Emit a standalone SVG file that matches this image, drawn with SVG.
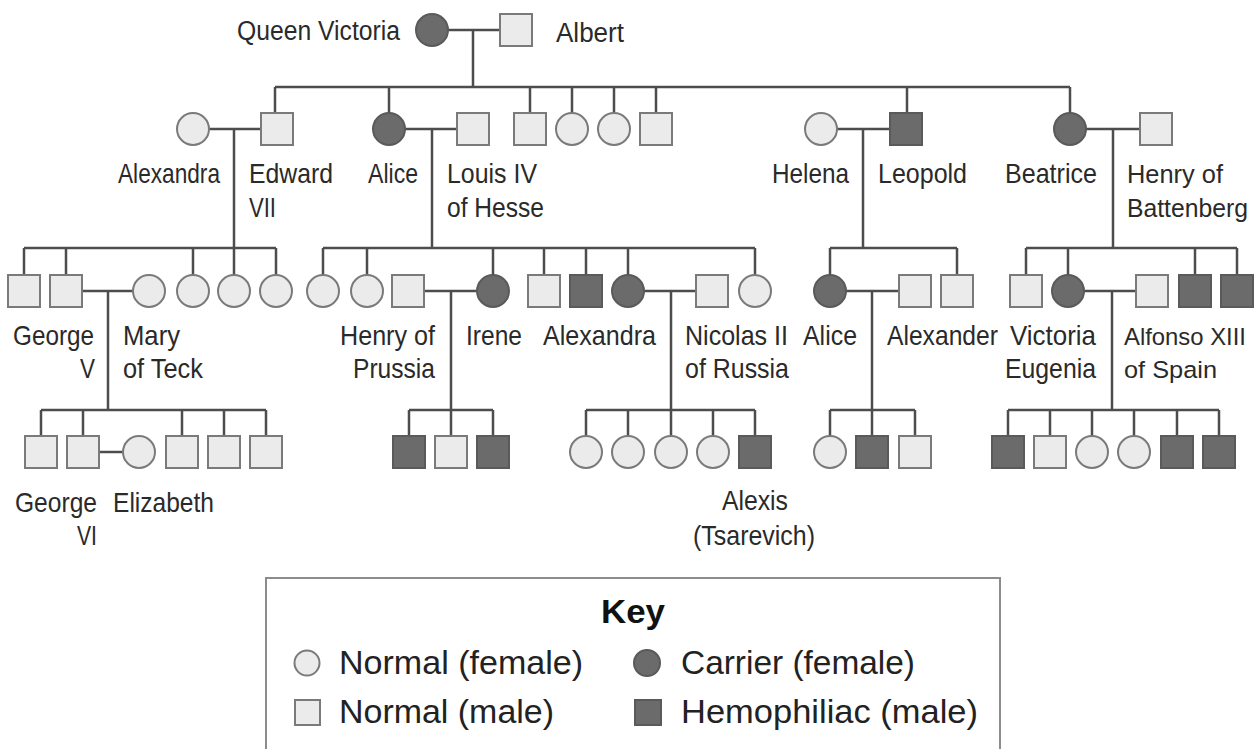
<svg xmlns="http://www.w3.org/2000/svg" width="1255" height="749" viewBox="0 0 1255 749">
<style>
.l{fill:#ebebeb;stroke:#7a7a7a;stroke-width:2}
.d{fill:#6b6b6b;stroke:#5a5a5a;stroke-width:2}
.ln{stroke:#4d4d4d;stroke-width:2.5;fill:none}
text{font-family:"Liberation Sans Narrow","Liberation Sans",Arial,sans-serif;fill:#2a2a2a;font-size:28px}
.t{font-size:27px}
.e1{font-size:25px}
.e2{font-size:24.5px}
.k{font-family:"Liberation Sans",Arial,sans-serif;font-size:34px;fill:#222}
.kb{font-family:"Liberation Sans",Arial,sans-serif;font-size:34px;font-weight:bold;fill:#111}
</style>
<rect width="1255" height="749" fill="#fff"/>
<g id="connectors" class="ln">
<path d="M448 30H500M473 30V87M275 87H1070"/>
<path d="M275 87V113M389 87V113M530 87V113M572 87V113M614 87V113M656 87V113M907 87V113M1070 87V113"/>
<path d="M209 129H261M234 129V275M405 129H457M432 129V248M837 129H890M863 129V248M1086 129H1140M1113 129V248"/>
<path d="M24 248H276M24 248V275M66 248V275M193 248V275M276 248V275"/>
<path d="M323 248H755M323 248V275M367 248V275M493 248V275M544 248V275M586 248V275M628 248V275M755 248V275"/>
<path d="M830 248H957M830 248V275M957 248V275"/>
<path d="M1026 248H1237M1026 248V275M1068 248V275M1195 248V275M1237 248V275"/>
<path d="M82 291H133M108 291V410M424 291H477M451 291V436M644 291H696M671 291V436M846 291H899M872 291V436M1084 291H1136M1112 291V410"/>
<path d="M41 410H266M41 410V436M83 410V436M182 410V436M224 410V436M266 410V436"/>
<path d="M409 410H493M409 410V436M493 410V436"/>
<path d="M586 410H755M586 410V436M628 410V436M713 410V436M755 410V436"/>
<path d="M830 410H915M830 410V436M915 410V436"/>
<path d="M1008 410H1219M1008 410V436M1050 410V436M1092 410V436M1134 410V436M1177 410V436M1219 410V436"/>
<path d="M99 452H123"/>
</g>
<g id="victoria"><circle class="d" cx="432" cy="30" r="16"/><text class="t" x="237" y="40" textLength="163" lengthAdjust="spacingAndGlyphs">Queen Victoria</text></g>
<g id="albert"><rect class="l" x="500" y="14" width="32" height="32"/><text class="t" x="556" y="42" textLength="68" lengthAdjust="spacingAndGlyphs">Albert</text></g>
<g id="alexandra1"><circle class="l" cx="193" cy="129" r="16"/><text x="118" y="183" textLength="102" lengthAdjust="spacingAndGlyphs">Alexandra</text></g>
<g id="edward7"><rect class="l" x="261" y="113" width="32" height="32"/><text x="249" y="183" textLength="84" lengthAdjust="spacingAndGlyphs">Edward</text><text x="249" y="217" textLength="27" lengthAdjust="spacingAndGlyphs">VII</text></g>
<g id="alice1"><circle class="d" cx="389" cy="129" r="16"/><text x="368" y="183" textLength="50" lengthAdjust="spacingAndGlyphs">Alice</text></g>
<g id="louis4"><rect class="l" x="457" y="113" width="32" height="32"/><text x="447" y="183" textLength="90" lengthAdjust="spacingAndGlyphs">Louis IV</text><text x="447" y="217" textLength="97" lengthAdjust="spacingAndGlyphs">of Hesse</text></g>
<g id="sib2a"><rect class="l" x="514" y="113" width="32" height="32"/></g>
<g id="sib2b"><circle class="l" cx="572" cy="129" r="16"/></g>
<g id="sib2c"><circle class="l" cx="614" cy="129" r="16"/></g>
<g id="sib2d"><rect class="l" x="640" y="113" width="32" height="32"/></g>
<g id="helena"><circle class="l" cx="821" cy="129" r="16"/><text x="772" y="183" textLength="77" lengthAdjust="spacingAndGlyphs">Helena</text></g>
<g id="leopold"><rect class="d" x="890" y="113" width="32" height="32"/><text x="878" y="183" textLength="89" lengthAdjust="spacingAndGlyphs">Leopold</text></g>
<g id="beatrice"><circle class="d" cx="1070" cy="129" r="16"/><text x="1005" y="183" textLength="92" lengthAdjust="spacingAndGlyphs">Beatrice</text></g>
<g id="henryb"><rect class="l" x="1140" y="113" width="32" height="32"/><text class="e1" x="1127" y="183" textLength="96" lengthAdjust="spacingAndGlyphs">Henry of</text><text class="e1" x="1127" y="217" textLength="121" lengthAdjust="spacingAndGlyphs">Battenberg</text></g>
<g id="g3a"><rect class="l" x="8" y="275" width="32" height="32"/></g>
<g id="george5"><rect class="l" x="50" y="275" width="32" height="32"/><text x="13" y="345" textLength="81" lengthAdjust="spacingAndGlyphs">George</text><text x="80" y="378" textLength="15" lengthAdjust="spacingAndGlyphs">V</text></g>
<g id="mary"><circle class="l" cx="149" cy="291" r="16"/><text x="123" y="345" textLength="57" lengthAdjust="spacingAndGlyphs">Mary</text><text x="123" y="378" textLength="80" lengthAdjust="spacingAndGlyphs">of Teck</text></g>
<g id="g3b"><circle class="l" cx="193" cy="291" r="16"/></g>
<g id="g3c"><circle class="l" cx="234" cy="291" r="16"/></g>
<g id="g3d"><circle class="l" cx="276" cy="291" r="16"/></g>
<g id="g3e"><circle class="l" cx="323" cy="291" r="16"/></g>
<g id="g3f"><circle class="l" cx="367" cy="291" r="16"/></g>
<g id="henryp"><rect class="l" x="392" y="275" width="32" height="32"/><text x="340" y="345" textLength="95" lengthAdjust="spacingAndGlyphs">Henry of</text><text x="353" y="378" textLength="82" lengthAdjust="spacingAndGlyphs">Prussia</text></g>
<g id="irene"><circle class="d" cx="493" cy="291" r="16"/><text x="466" y="345" textLength="56" lengthAdjust="spacingAndGlyphs">Irene</text></g>
<g id="g3g"><rect class="l" x="528" y="275" width="32" height="32"/></g>
<g id="g3h"><rect class="d" x="570" y="275" width="32" height="32"/></g>
<g id="alexandra2"><circle class="d" cx="628" cy="291" r="16"/><text x="543" y="345" textLength="113" lengthAdjust="spacingAndGlyphs">Alexandra</text></g>
<g id="nicolas"><rect class="l" x="696" y="275" width="32" height="32"/><text x="685" y="345" textLength="103" lengthAdjust="spacingAndGlyphs">Nicolas II</text><text x="685" y="378" textLength="104" lengthAdjust="spacingAndGlyphs">of Russia</text></g>
<g id="g3i"><circle class="l" cx="755" cy="291" r="16"/></g>
<g id="alice2"><circle class="d" cx="830" cy="291" r="16"/><text x="803" y="345" textLength="54" lengthAdjust="spacingAndGlyphs">Alice</text></g>
<g id="alexander"><rect class="l" x="899" y="275" width="32" height="32"/><text x="887" y="345" textLength="111" lengthAdjust="spacingAndGlyphs">Alexander</text></g>
<g id="g3j"><rect class="l" x="941" y="275" width="32" height="32"/></g>
<g id="g3k"><rect class="l" x="1010" y="275" width="32" height="32"/></g>
<g id="victoriae"><circle class="d" cx="1068" cy="291" r="16"/><text x="1010" y="345" textLength="86" lengthAdjust="spacingAndGlyphs">Victoria</text><text x="1005" y="378" textLength="91" lengthAdjust="spacingAndGlyphs">Eugenia</text></g>
<g id="alfonso"><rect class="l" x="1136" y="275" width="32" height="32"/><text class="e2" x="1124" y="345" textLength="122" lengthAdjust="spacingAndGlyphs">Alfonso XIII</text><text class="e2" x="1124" y="378" textLength="93" lengthAdjust="spacingAndGlyphs">of Spain</text></g>
<g id="g3l"><rect class="d" x="1179" y="275" width="32" height="32"/></g>
<g id="g3m"><rect class="d" x="1221" y="275" width="32" height="32"/></g>
<g id="g4a"><rect class="l" x="25" y="436" width="32" height="32"/></g>
<g id="george6"><rect class="l" x="67" y="436" width="32" height="32"/><text x="15" y="512" textLength="82" lengthAdjust="spacingAndGlyphs">George</text><text x="77" y="545" textLength="20" lengthAdjust="spacingAndGlyphs">VI</text></g>
<g id="elizabeth"><circle class="l" cx="139" cy="452" r="16"/><text x="113" y="512" textLength="101" lengthAdjust="spacingAndGlyphs">Elizabeth</text></g>
<g id="g4b"><rect class="l" x="166" y="436" width="32" height="32"/></g>
<g id="g4c"><rect class="l" x="208" y="436" width="32" height="32"/></g>
<g id="g4d"><rect class="l" x="250" y="436" width="32" height="32"/></g>
<g id="g4e"><rect class="d" x="393" y="436" width="32" height="32"/></g>
<g id="g4f"><rect class="l" x="435" y="436" width="32" height="32"/></g>
<g id="g4g"><rect class="d" x="477" y="436" width="32" height="32"/></g>
<g id="g4h"><circle class="l" cx="586" cy="452" r="16"/></g>
<g id="g4i"><circle class="l" cx="628" cy="452" r="16"/></g>
<g id="g4j"><circle class="l" cx="671" cy="452" r="16"/></g>
<g id="g4k"><circle class="l" cx="713" cy="452" r="16"/></g>
<g id="alexis"><rect class="d" x="739" y="436" width="32" height="32"/><text x="722" y="510" textLength="66" lengthAdjust="spacingAndGlyphs">Alexis</text><text x="693" y="545" textLength="122" lengthAdjust="spacingAndGlyphs">(Tsarevich)</text></g>
<g id="g4l"><circle class="l" cx="830" cy="452" r="16"/></g>
<g id="g4m"><rect class="d" x="856" y="436" width="32" height="32"/></g>
<g id="g4n"><rect class="l" x="899" y="436" width="32" height="32"/></g>
<g id="g4o"><rect class="d" x="992" y="436" width="32" height="32"/></g>
<g id="g4p"><rect class="l" x="1034" y="436" width="32" height="32"/></g>
<g id="g4q"><circle class="l" cx="1092" cy="452" r="16"/></g>
<g id="g4r"><circle class="l" cx="1134" cy="452" r="16"/></g>
<g id="g4s"><rect class="d" x="1161" y="436" width="32" height="32"/></g>
<g id="g4t"><rect class="d" x="1203" y="436" width="32" height="32"/></g>
<g id="key">
<rect x="266" y="578" width="734" height="200" fill="#fff" stroke="#8c8c8c" stroke-width="2"/>
<text class="kb" x="601" y="623" textLength="64" lengthAdjust="spacingAndGlyphs">Key</text>
<circle class="l" cx="307" cy="663" r="12.5"/>
<text class="k" x="339" y="674" textLength="244" lengthAdjust="spacingAndGlyphs">Normal (female)</text>
<circle class="d" cx="647" cy="663" r="13"/>
<text class="k" x="681" y="674" textLength="234" lengthAdjust="spacingAndGlyphs">Carrier (female)</text>
<rect class="l" x="295" y="700" width="25" height="25"/>
<text class="k" x="339" y="723" textLength="215" lengthAdjust="spacingAndGlyphs">Normal (male)</text>
<rect class="d" x="635" y="700" width="26" height="25"/>
<text class="k" x="681" y="723" textLength="297" lengthAdjust="spacingAndGlyphs">Hemophiliac (male)</text>
</g>
</svg>
